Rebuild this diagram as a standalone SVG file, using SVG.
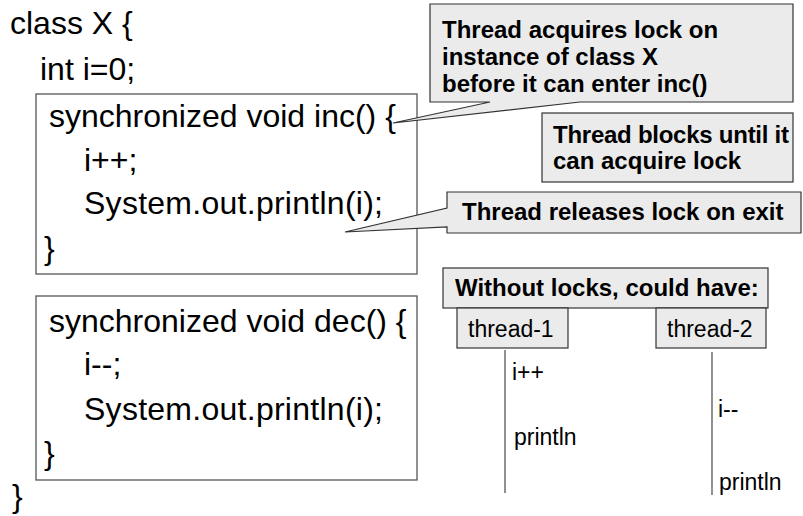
<svg xmlns="http://www.w3.org/2000/svg" width="803" height="516" viewBox="0 0 803 516">
  <style>
    .code { font-family: "Liberation Sans", Arial, sans-serif; font-size: 32px; fill: #000; }
    .note { font-family: "Liberation Sans", Arial, sans-serif; font-size: 24px; font-weight: bold; fill: #000; }
    .small { font-family: "Liberation Sans", Arial, sans-serif; font-size: 23px; fill: #000; }
    .method { fill: #fff; stroke: #555; stroke-width: 1.3; }
    .callout { fill: #ebebeb; stroke: #333; stroke-width: 1.2; }
    .life { stroke: #555; stroke-width: 1.3; fill: none; }
  </style>
  <rect width="803" height="516" fill="#fff"/>

  <!-- class body -->
  <g id="class-x">
    <text class="code" x="10" y="34">class X {</text>
    <text class="code" x="40" y="80">int i=0;</text>
    <text class="code" x="12" y="507">}</text>
  </g>

  <!-- synchronized inc() -->
  <g id="method-inc">
    <rect class="method" x="36" y="94" width="381" height="180"/>
    <text class="code" x="49" y="127">synchronized void inc() {</text>
    <text class="code" x="84" y="171">i++;</text>
    <text class="code" x="84" y="214" textLength="299">System.out.println(i);</text>
    <text class="code" x="44" y="259">}</text>
  </g>

  <!-- synchronized dec() -->
  <g id="method-dec">
    <rect class="method" x="36" y="296" width="381" height="184"/>
    <text class="code" x="49" y="332">synchronized void dec() {</text>
    <text class="code" x="84" y="375">i--;</text>
    <text class="code" x="84" y="420" textLength="299">System.out.println(i);</text>
    <text class="code" x="44" y="464">}</text>
  </g>

  <!-- callouts -->
  <g id="note-acquire">
    <path class="callout" d="M430,4 H793 V102 H580 L393,123 L490,102 H430 Z"/>
    <text class="note" x="442" y="38">Thread acquires lock on</text>
    <text class="note" x="442" y="65">instance of class X</text>
    <text class="note" x="442" y="92">before it can enter inc()</text>
  </g>

  <g id="note-blocks">
    <rect class="callout" x="542" y="113" width="251" height="69"/>
    <text class="note" x="553" y="143" textLength="236">Thread blocks until it</text>
    <text class="note" x="553" y="169">can acquire lock</text>
  </g>

  <g id="note-release">
    <path class="callout" d="M447,192 H801 V233 H447 V227 L345,232 L447,208 Z"/>
    <text class="note" x="462" y="220">Thread releases lock on exit</text>
  </g>

  <!-- interleaving without locks -->
  <g id="note-without">
    <rect class="callout" x="443" y="268" width="325" height="40"/>
    <text class="note" x="455" y="296">Without locks, could have:</text>
  </g>

  <g id="thread-1">
    <rect class="callout" x="457" y="308" width="111" height="40"/>
    <text class="small" x="468" y="337">thread-1</text>
  </g>

  <g id="thread-2">
    <rect class="callout" x="656" y="308" width="110" height="40"/>
    <text class="small" x="667" y="337">thread-2</text>
  </g>

  <g id="connectors">
    <line class="life" x1="505" y1="350" x2="505" y2="493"/>
    <line class="life" x1="712" y1="352" x2="712" y2="495"/>
  </g>

  <g id="steps">
    <text class="small" x="512" y="380">i++</text>
    <text class="small" x="514" y="445">println</text>
    <text class="small" x="718" y="417">i--</text>
    <text class="small" x="719" y="490">println</text>
  </g>
</svg>
